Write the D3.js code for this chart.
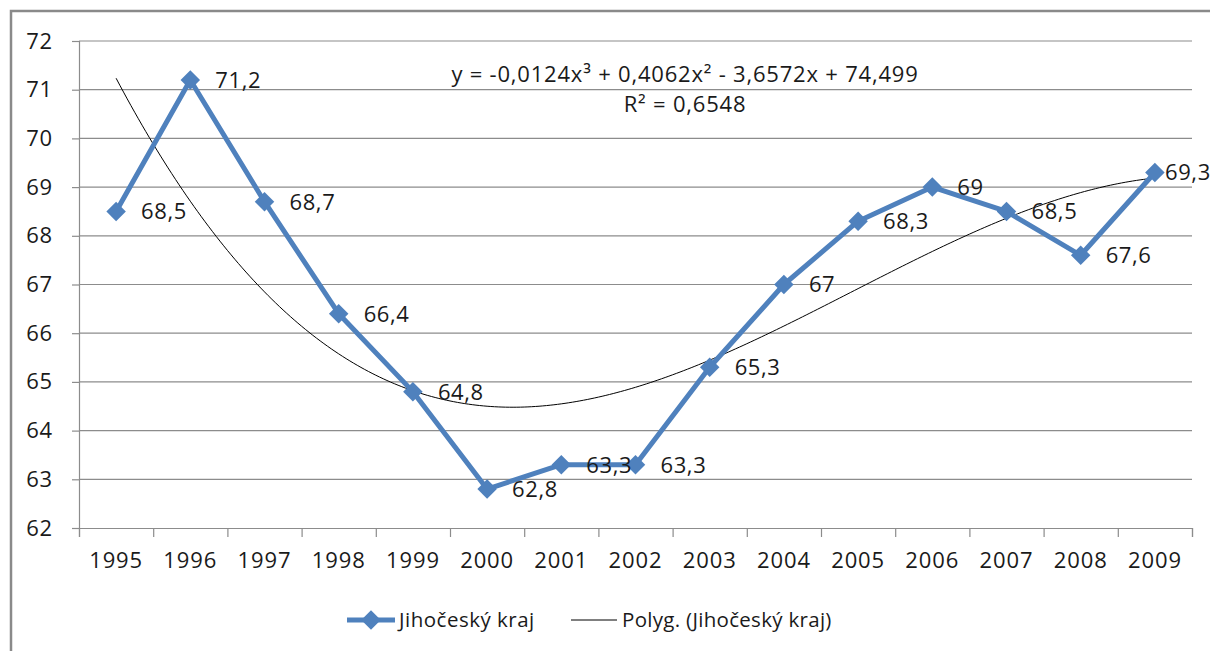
<!DOCTYPE html>
<html><head><meta charset="utf-8">
<script src="https://cdn.jsdelivr.net/npm/d3@7"></script>
<style>
html,body{margin:0;padding:0;background:#fff;}
svg{display:block;}
text{font-family:"Open Sans","Noto Sans",sans-serif;fill:#1a1a1a;}
</style></head>
<body>
<svg id="c" width="1210" height="651"></svg>
<script>
const years = ["1995","1996","1997","1998","1999","2000","2001","2002","2003","2004","2005","2006","2007","2008","2009"];
const values = [68.5,71.2,68.7,66.4,64.8,62.8,63.3,63.3,65.3,67,68.3,69,68.5,67.6,69.3];
const valueLabels = ["68,5","71,2","68,7","66,4","64,8","62,8","63,3","63,3","65,3","67","68,3","69","68,5","67,6","69,3"];
const yTicks = [62,63,64,65,66,67,68,69,70,71,72];
// trendline coefficients (cubic, highest power first), x = 1..15
const trendCoef = [-0.0124, 0.4062, -3.6572, 74.499];
const equationText = "y = -0,0124x³ + 0,4062x² - 3,6572x + 74,499";
const r2Text = "R² = 0,6548";
const seriesName = "Jihočeský kraj";
const trendName = "Polyg. (Jihočeský kraj)";

const svg = d3.select("#c");
const L = 79, R = 1192, T = 41, B = 528;
const blue = "#4F81BD", grid = "#8c8c8c";
const FS = 22;

// outer border
svg.append("rect").attr("x",11).attr("y",11).attr("width",1230).attr("height",680)
  .attr("fill","none").attr("stroke","#8a8a8a").attr("stroke-width",2.5);

const x = d3.scaleBand().domain(years).range([L,R]).paddingInner(0).paddingOuter(0);
const bw = x.bandwidth();
const xc = d => x(d) + bw/2;
const y = d3.scaleLinear().domain([62,72]).range([B,T]);
const xt = d3.scaleLinear().domain([0.5, years.length+0.5]).range([L,R]);

// gridlines
svg.append("g").selectAll("line").data(yTicks.filter(v=>v>62)).join("line")
  .attr("x1",L).attr("x2",R).attr("y1",d=>y(d)).attr("y2",d=>y(d))
  .attr("stroke",grid).attr("stroke-width",1.2);

// y axis
const yAx = svg.append("g").attr("transform",`translate(${L},0)`)
  .call(d3.axisLeft(y).tickValues(yTicks).tickSize(7).tickPadding(19).tickFormat(d3.format("d")));
yAx.select(".domain").attr("stroke",grid).attr("stroke-width",1.2);
yAx.selectAll(".tick line").attr("stroke",grid).attr("stroke-width",1.2);
yAx.selectAll("text").attr("font-size",FS).attr("fill","#1a1a1a").style("font-family","'Open Sans'").attr("letter-spacing",0.8);

// x axis: boundary ticks
const xAx = svg.append("g").attr("transform",`translate(0,${B})`)
  .call(d3.axisBottom(xt).tickValues(d3.range(0.5, years.length+1, 1)).tickSize(9).tickFormat(""));
xAx.select(".domain").attr("stroke",grid).attr("stroke-width",1.2);
xAx.selectAll(".tick line").attr("stroke",grid).attr("stroke-width",1.2);
// x labels
const xLab = svg.append("g").attr("transform",`translate(0,${B})`)
  .call(d3.axisBottom(x).tickSize(0).tickPadding(24));
xLab.select(".domain").remove();
xLab.selectAll("text").attr("font-size",FS).attr("fill","#1a1a1a").style("font-family","'Open Sans'").attr("letter-spacing",0.9);

// trendline
const poly = t => trendCoef.reduce((acc,c)=>acc*t + c, 0);
const tSamples = d3.range(1, years.length + 0.001, 0.05);
svg.append("path").datum(tSamples)
  .attr("d", d3.line().x(t=>xt(t)).y(t=>y(poly(t))).curve(d3.curveLinear))
  .attr("fill","none").attr("stroke","#000").attr("stroke-width",1);

// series line
svg.append("path").datum(values)
  .attr("d", d3.line().x((d,i)=>xc(years[i])).y(d=>y(d)))
  .attr("fill","none").attr("stroke",blue).attr("stroke-width",5).attr("stroke-linejoin","round");

// markers
const diamond = d3.symbol().type(d3.symbolSquare).size(190);
svg.append("g").selectAll("path").data(values).join("path")
  .attr("d", diamond)
  .attr("transform",(d,i)=>`translate(${xc(years[i])},${y(d)}) rotate(45)`)
  .attr("fill",blue);

// data labels
const labels = svg.append("g").selectAll("text").data(values).join("text")
  .attr("x",(d,i)=>xc(years[i]) + 25)
  .attr("y",d=>y(d))
  .attr("dy","0.36em")
  .attr("font-size",FS).attr("letter-spacing",0.6)
  .text((d,i)=>valueLabels[i]);
labels.each(function(){
  const x0 = +this.getAttribute("x");
  if (x0 > 1165) this.setAttribute("x", 1165);
});

// equation
svg.append("text").attr("x",685).attr("y",82).attr("text-anchor","middle")
  .attr("font-size",FS).attr("letter-spacing",0.8).text(equationText);
svg.append("text").attr("x",685).attr("y",112).attr("text-anchor","middle")
  .attr("font-size",FS).attr("letter-spacing",0.8).text(r2Text);

// legend
const ly = 620;
const lg = svg.append("g");
lg.append("line").attr("x1",347).attr("x2",395).attr("y1",ly).attr("y2",ly).attr("stroke",blue).attr("stroke-width",5);
lg.append("path").attr("d",diamond).attr("transform",`translate(371,${ly}) rotate(45)`).attr("fill",blue);
lg.append("text").attr("x",399).attr("y",ly).attr("dy","0.36em").attr("font-size",20.5).attr("letter-spacing",0.5).text(seriesName);
lg.append("line").attr("x1",571).attr("x2",617).attr("y1",ly).attr("y2",ly).attr("stroke","#000").attr("stroke-width",1);
lg.append("text").attr("x",622).attr("y",ly).attr("dy","0.36em").attr("font-size",20.5).attr("letter-spacing",0.3).text(trendName);
</script>
</body></html>
